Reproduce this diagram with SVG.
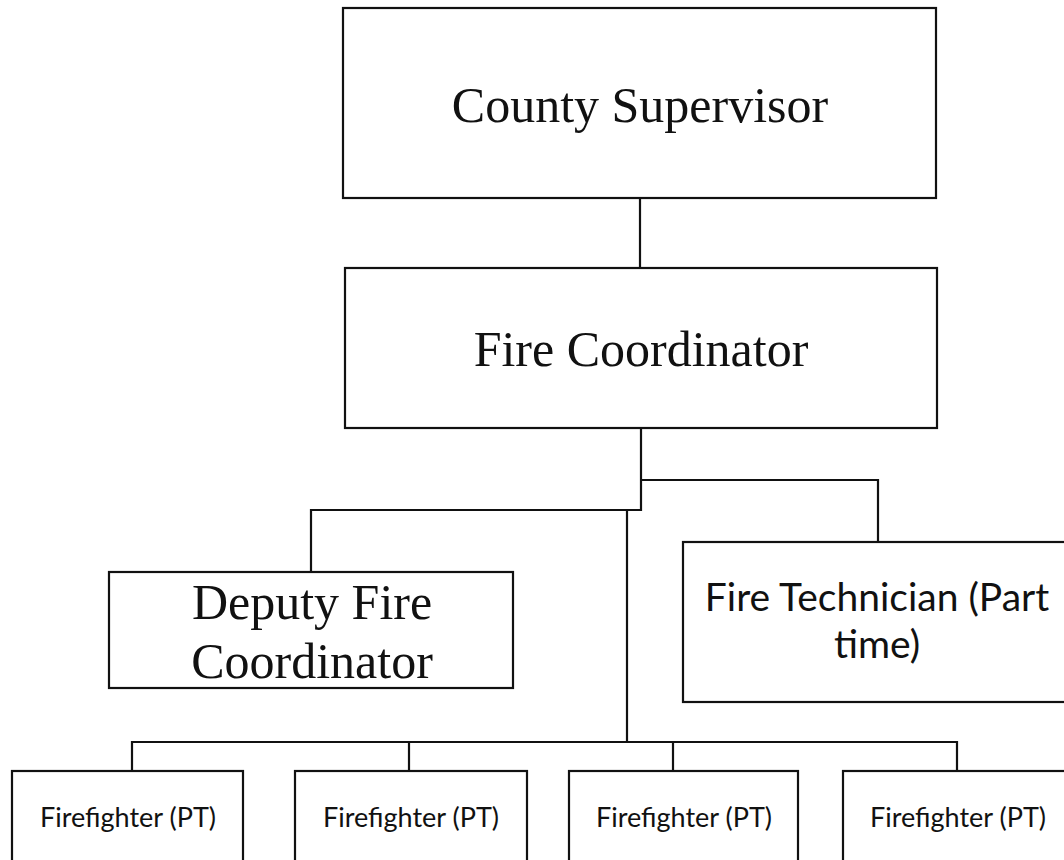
<svg xmlns="http://www.w3.org/2000/svg" width="1064" height="860" viewBox="0 0 1064 860">
<style>
.box{fill:#fff;stroke:#111;stroke-width:2.2}
.ln{fill:none;stroke:#111;stroke-width:2.2}
.serif{font-family:"Liberation Serif","Times New Roman",serif;font-size:50px;fill:#111;text-anchor:middle}
.sans{font-family:Lato,"Liberation Sans",sans-serif;fill:#111;text-anchor:middle}
.big{font-size:39px}
.small{font-size:27px}
</style>
<rect width="1064" height="860" fill="#fff"/>
<g id="connectors">
<path class="ln" d="M640,198 V268"/>
<path class="ln" d="M641,428 V510 H311 V572"/>
<path class="ln" d="M641,480 H878 V542"/>
<path class="ln" d="M627,510 V742"/>
<path class="ln" d="M132,771 V742 H957 V771"/>
<path class="ln" d="M409,742 V771"/>
<path class="ln" d="M673,742 V771"/>
</g>
<g id="county-supervisor">
<rect class="box" x="343" y="8" width="593" height="190"/>
<text class="serif" x="640" y="122">County Supervisor</text>
</g>
<g id="fire-coordinator">
<rect class="box" x="345" y="268" width="592" height="160"/>
<text class="serif" x="641" y="366">Fire Coordinator</text>
</g>
<g id="deputy-fire-coordinator">
<rect class="box" x="109" y="572" width="404" height="116"/>
<text class="serif" x="312" y="619">Deputy Fire</text>
<text class="serif" x="312" y="678">Coordinator</text>
</g>
<g id="fire-technician">
<rect class="box" x="683" y="542" width="390" height="160"/>
<text class="sans big" x="877" y="611">Fire Technician (Part</text>
<text class="sans big" x="877" y="658">time)</text>
</g>
<g id="firefighter-1">
<rect class="box" x="12" y="771" width="231" height="100"/>
<text class="sans small" x="128" y="827">Firefighter (PT)</text>
</g>
<g id="firefighter-2">
<rect class="box" x="295" y="771" width="232" height="100"/>
<text class="sans small" x="411" y="827">Firefighter (PT)</text>
</g>
<g id="firefighter-3">
<rect class="box" x="569" y="771" width="229" height="100"/>
<text class="sans small" x="684" y="827">Firefighter (PT)</text>
</g>
<g id="firefighter-4">
<rect class="box" x="843" y="771" width="230" height="100"/>
<text class="sans small" x="958" y="827">Firefighter (PT)</text>
</g>
</svg>
